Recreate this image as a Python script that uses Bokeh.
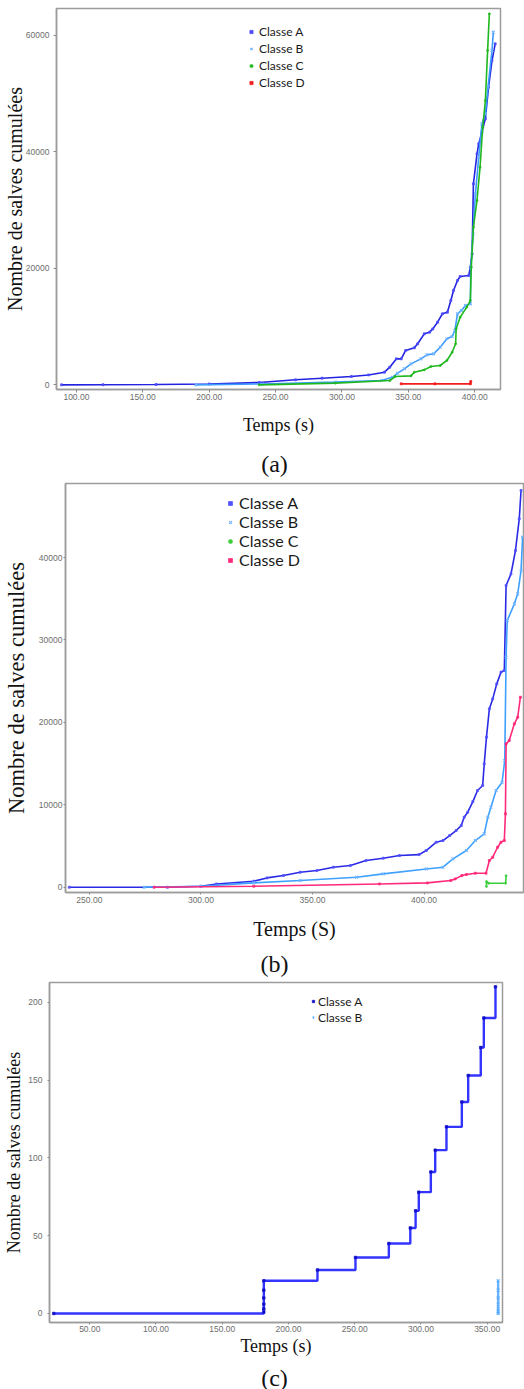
from bokeh.plotting import figure
from bokeh.models import (Legend, LegendItem, SingleIntervalTicker,
                          NumeralTickFormatter, Range1d, Label)
from bokeh.layouts import column
from bokeh.embed import file_html
from bokeh.resources import INLINE

# ---------------- data ----------------
# Panel (a)
a_A_t = [88.8, 120, 160, 200, 237.8, 265, 285, 307, 320, 332, 336, 341, 344.6, 348, 354.5,
         357, 362, 366, 368.4, 372, 375.6, 379.4, 382, 384, 387, 389, 395.5, 396.7, 398, 399,
         401.7, 403, 405.4, 408, 410.4, 413, 415.4]
a_A_n = [0, 20, 60, 150, 400, 860, 1140, 1430, 1700, 2170, 3030, 4460, 4460, 5900, 6350,
         7040, 8750, 9040, 9600, 10750, 12180, 12470, 14470, 16190, 17900, 18590, 18760, 20190,
         22480, 34490, 39640, 41350, 43360, 45650, 51080, 55650, 58520]
a_B_t = [190, 240, 295, 329.7, 338, 342, 347, 352, 359.4, 364, 369, 374, 379, 383, 385, 387,
         390, 393, 396.7, 397, 398.7, 400.5, 403, 405.4, 408, 410, 413, 414]
a_B_n = [0, 150, 460, 740, 1300, 2000, 2750, 3600, 4460, 5150, 5320, 6460, 7900, 8300, 9320,
         12180, 12760, 13610, 13900, 20190, 25910, 32780, 39070, 44790, 46500, 51080, 57370, 60520]
a_C_t = [237.6, 295, 336, 340, 352, 354.5, 362, 367, 374, 379, 383, 385.6, 386, 389, 394,
         396.7, 397.4, 399, 401.7, 404, 406, 408, 409.7, 411]
a_C_n = [0, 290, 740, 1430, 1540, 2170, 2570, 3150, 3320, 4180, 5600, 7040, 9610, 11600,
         13330, 14470, 20190, 27060, 31630, 37350, 44200, 48790, 57370, 63660]
a_D_t = [344.6, 370, 396.7, 397]
a_D_n = [170, 170, 170, 570]

# Panel (b)
b_A_t = [241, 285, 300, 307, 323.7, 329.6, 337, 344.5, 352, 359.4, 367, 374, 381.7, 389,
         397.8, 401, 405.5, 408.5, 411.5, 414.4, 416.7, 418, 419.6, 421.9, 424, 426.3, 427,
         428, 429.3, 430.8, 432.6, 434.5, 436, 436.8, 439, 441, 442.7, 443.5]
b_A_n = [0, 0, 120, 400, 730, 1130, 1420, 1820, 2020, 2430, 2630, 3240, 3520, 3840, 3960,
         4450, 5460, 5660, 6270, 6880, 7480, 8490, 9100, 10390, 11730, 12340, 14960, 18200,
         21640, 22850, 24670, 26090, 26290, 36600, 38020, 40850, 44690, 48130]
b_B_t = [274.5, 300, 323.7, 344.5, 369.8, 381.7, 401, 408.5, 413, 419, 423, 427, 428.6, 430,
         432.3, 435, 436.2, 436.8, 437.3, 440.5, 442, 443.5, 444.2]
b_B_n = [0, 120, 525, 810, 1210, 1620, 2220, 2430, 3440, 4450, 5660, 6470, 8490, 9710, 11730,
         12740, 15370, 27910, 32360, 34380, 35590, 38420, 42470]
b_C_t = [428, 428, 429, 436.6, 436.8]
b_C_n = [80, 700, 480, 480, 1400]
b_D_t = [279, 323.7, 380, 401.5, 412, 414, 417, 419, 423, 427.8, 429.3, 430.8, 433, 434.5,
         436, 436.5, 436.8, 438.2, 440.5, 442, 443.2]
b_D_n = [0, 120, 400, 525, 810, 1010, 1420, 1540, 1700, 1700, 3240, 3640, 4850, 5460, 5660,
         8900, 17390, 17800, 19820, 20630, 23050]

# Panel (c)
c_A_t = [22.8, 181.4, 181.4, 181.4, 181.4, 181.4, 181.4, 221.9, 250.6, 275.8, 292, 296,
         298.4, 307.5, 310.8, 319.3, 330.9, 335.7, 345.2, 347.5, 356.3]
c_A_n = [0, 1, 3, 6, 10, 15, 21, 28, 36, 45, 55, 66, 78, 91, 105, 120, 136, 153, 171, 190, 210]
c_B_t = [358.3, 358.3, 358.3, 358.3, 358.3, 358.3, 358.3]
c_B_n = [0, 1, 3, 6, 10, 15, 21]

labels_abcd = ["Classe A", "Classe B", "Classe C", "Classe D"]
captions = ["(a)", "(b)", "(c)"]
y_title = "Nombre de salves cumulées"

TICK_FONT = "Liberation Sans Narrow, Liberation Sans, sans-serif"
SERIF = "Liberation Serif"
LEG_FONT = "Lato"
GRAY = "#9c9c9c"


def base(height, left, right, top, bottom, xr, yr, xint, yint, xlab, xsize, ysize,
         xstand, ystand, xtick_stand, ytick_stand, tick_out):
    p = figure(width=524, height=height, x_range=Range1d(*xr), y_range=Range1d(*yr),
               output_backend="svg", toolbar_location=None, frame_align=False,
               min_border_left=left, min_border_right=right,
               min_border_top=top, min_border_bottom=bottom)
    p.grid.visible = False
    p.outline_line_color = GRAY
    p.outline_line_width = 1.5
    p.xaxis.ticker = SingleIntervalTicker(interval=xint, num_minor_ticks=0)
    p.xaxis.formatter = NumeralTickFormatter(format="0.00")
    p.yaxis.ticker = SingleIntervalTicker(interval=yint, num_minor_ticks=0)
    p.yaxis.formatter = NumeralTickFormatter(format="0")
    for ax in p.axis:
        ax.axis_line_color = GRAY
        ax.axis_line_width = 1.5
        ax.major_tick_line_color = "#8a8a8a"
        ax.major_tick_out = tick_out
        ax.major_tick_in = 0
        ax.minor_tick_line_color = None
        ax.major_label_text_font = TICK_FONT
        ax.major_label_text_font_size = "8.5px"
        ax.major_label_text_color = "#6e6e6e"
        ax.axis_label_text_font = SERIF
        ax.axis_label_text_font_style = "normal"
        ax.axis_label_text_color = "#111111"
    p.xaxis.axis_label = xlab
    p.yaxis.axis_label = y_title
    p.xaxis.axis_label_text_font_size = xsize
    p.yaxis.axis_label_text_font_size = ysize
    p.xaxis.axis_label_standoff = xstand
    p.yaxis.axis_label_standoff = ystand
    p.xaxis.major_label_standoff = xtick_stand
    p.yaxis.major_label_standoff = ytick_stand
    return p


def caption(text, height, ycenter):
    c = figure(width=524, height=height, x_range=Range1d(0, 524), y_range=Range1d(0, height),
               output_backend="svg", toolbar_location=None, min_border=0, frame_align=False,
               x_axis_location=None, y_axis_location=None)
    c.grid.visible = False
    c.outline_line_color = None
    c.add_layout(Label(x=274, y=height - ycenter, text=text, text_align="center",
                       text_baseline="middle", text_font=SERIF, text_font_size="24px",
                       text_color="#111111"))
    return c


def legend(p, renderers, names, loc, gw, gh, standoff, size):
    items = [LegendItem(label=l, renderers=[r]) for l, r in zip(names, renderers)]
    lg = Legend(items=items, location=loc, orientation="vertical",
                border_line_color=None, background_fill_alpha=0,
                padding=0, margin=0, spacing=0, glyph_width=gw, glyph_height=gh,
                label_height=gh, label_standoff=standoff,
                label_text_font=LEG_FONT, label_text_font_size=size,
                label_text_color="#1a1a1a")
    p.add_layout(lg)


def draw_series(p, ts, ns, cols, mcols, marks):
    rs = []
    for t, n, c, mc, m in zip(ts, ns, cols, mcols, marks):
        p.line(t, n, line_color=c, line_width=1.6)
        sz = 4 if m == "x" else 2
        lw = 1.1 if m == "x" else 0.7
        rs.append(p.scatter(t, n, marker=m, size=sz, line_color=mc, fill_color=mc,
                            line_width=lw))
    return rs


# ---------------- panel (a) ----------------
fa = base(445, 52, 24, 8, 56, (85, 419.4), (-800, 64580), 50, 20000,
          "Temps (s)", "18px", "20px", 12, -3, 1, 4, 3)
ra = draw_series(fa, [a_A_t, a_B_t, a_C_t, a_D_t], [a_A_n, a_B_n, a_C_n, a_D_n],
                 ["#2323e0", "#3d9bff", "#1fb81f", "#f21d1d"],
                 ["#4a4aff", "#6fb4ff", "#1fb81f", "#f21d1d"],
                 ["square", "x", "circle", "square"])
legend(fa, ra, labels_abcd, (191, 298), 8, 17, 4, "12px")

# ---------------- panel (b) ----------------
fb = base(465, 64, 1, 3, 53, (239.3, 444.6), (-640, 48980), 50, 10000,
          "Temps (S)", "20px", "22.5px", 12, 7, 2, 1, 2)
rb = draw_series(fb, [b_A_t, b_B_t, b_C_t, b_D_t], [b_A_n, b_B_n, b_C_n, b_D_n],
                 ["#2a2ae6", "#3ea0ff", "#3ccf3c", "#ff2a7a"],
                 ["#5050ff", "#6fb4ff", "#3ccf3c", "#ff2a7a"],
                 ["square", "x", "circle", "square"])
legend(fb, rb, labels_abcd, (160, 323), 10, 16, 4, "16px")

# ---------------- panel (c) ----------------
fc = base(382, 49, 22, 2, 40, (19.6, 361.6), (-5.8, 212.8), 50, 50,
          "Temps (s)", "18px", "18px", 1, 1, 1, 5, 2)
fc.step(c_A_t, c_A_n, mode="after", line_color="#3434ff", line_width=2.4)
rcA = fc.scatter(c_A_t, c_A_n, marker="square", size=2.5, line_color="#1010c8",
                 fill_color="#1010c8", line_width=0.7)
fc.line(c_B_t, c_B_n, line_color="#66b3ff", line_width=2.4)
rcB = fc.scatter(c_B_t, c_B_n, marker="x", size=4, line_color="#5aacff", line_width=1.1)
legend(fc, [rcA, rcB], labels_abcd[:2], (261, 297), 6, 16, 2, "12px")

layout = column(fa, caption(captions[0], 35, 18), fb, caption(captions[1], 35, 18),
                fc, caption(captions[2], 27, 15), spacing=0)

open("out.html", "w").write(file_html(layout, INLINE))
